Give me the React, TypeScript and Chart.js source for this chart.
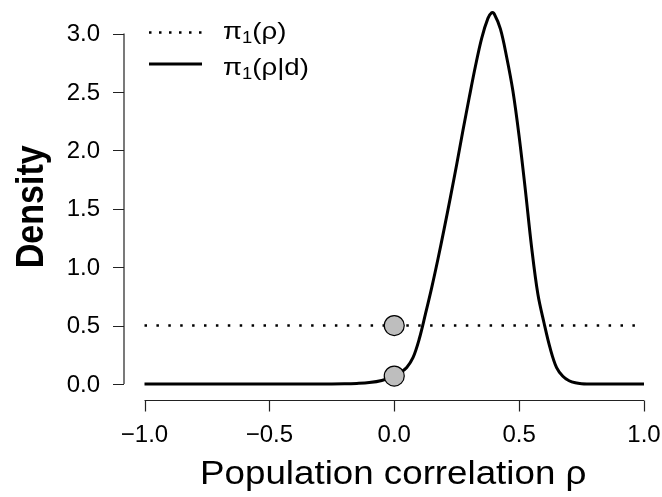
import React, { useEffect, useRef } from "react";
import { Chart, registerables } from "chart.js";

Chart.register(...registerables);

// ---- data ----
const rhoGrid = [
  -1, -0.8, -0.6, -0.4, -0.3, -0.2, -0.15, -0.1, -0.05, 0, 0.025, 0.05, 0.075, 0.1, 0.125,
  0.15, 0.175, 0.2, 0.225, 0.25, 0.275, 0.3, 0.325, 0.35, 0.375, 0.39, 0.4, 0.425, 0.45,
  0.475, 0.5, 0.525, 0.55, 0.575, 0.6, 0.625, 0.65, 0.675, 0.7, 0.725, 0.75, 0.8, 0.9, 1,
];
const posteriorDensity = [
  0, 0, 0, 0, 0.0005, 0.002, 0.005, 0.012, 0.03, 0.068, 0.099, 0.142, 0.225, 0.385, 0.6,
  0.825, 1.07, 1.33, 1.6, 1.88, 2.17, 2.45, 2.72, 2.96, 3.13, 3.18, 3.17, 3.04, 2.8,
  2.51, 2.12, 1.66, 1.17, 0.77, 0.52, 0.3, 0.14, 0.066, 0.028, 0.01, 0.003, 0, 0, 0,
];
const priorRho = [-1, 1];
const priorDensity = [0.5, 0.5];
const pointRho = [0, 0];
const pointDensity = [0.5, 0.068];

const xTicks = [-1, -0.5, 0, 0.5, 1];
const xTickLabels = ["\u22121.0", "\u22120.5", "0.0", "0.5", "1.0"];
const yTicks = [0, 0.5, 1, 1.5, 2, 2.5, 3];
const yTickLabels = ["0.0", "0.5", "1.0", "1.5", "2.0", "2.5", "3.0"];

const xTitle = "Population correlation \u03c1";
const yTitle = "Density";
const legendPrior = ["\u03c0", "1", "(\u03c1)"];
const legendPosterior = ["\u03c0", "1", "(\u03c1|d)"];

const FONT = '"Liberation Sans", Arial, Helvetica, sans-serif';

const rAxesPlugin = {
  id: "rAxes",
  afterDraw(chart: any) {
    const ctx = chart.ctx as CanvasRenderingContext2D;
    const xs = chart.scales.x;
    const ys = chart.scales.y;
    ctx.save();
    ctx.strokeStyle = "#222";
    ctx.fillStyle = "#000";
    ctx.lineWidth = 1.2;

    // x axis (R style, spanning first to last tick)
    const axY = ys.getPixelForValue(0) + 16.5;
    const x0 = xs.getPixelForValue(xTicks[0]);
    const x1 = xs.getPixelForValue(xTicks[xTicks.length - 1]);
    ctx.beginPath();
    ctx.moveTo(x0, axY);
    ctx.lineTo(x1, axY);
    xTicks.forEach((t) => {
      const px = Math.round(xs.getPixelForValue(t)) + 0.5;
      ctx.moveTo(px, axY);
      ctx.lineTo(px, axY + 11);
    });
    ctx.stroke();
    ctx.font = `24px ${FONT}`;
    ctx.textAlign = "center";
    ctx.textBaseline = "alphabetic";
    xTicks.forEach((t, i) => {
      ctx.fillText(xTickLabels[i], xs.getPixelForValue(t), axY + 41);
    });

    // y axis
    const axX = xs.getPixelForValue(-1) - 20.5;
    const y0 = ys.getPixelForValue(yTicks[0]);
    const y1 = ys.getPixelForValue(yTicks[yTicks.length - 1]);
    ctx.beginPath();
    ctx.moveTo(axX, y0);
    ctx.lineTo(axX, y1);
    yTicks.forEach((t) => {
      const py = Math.round(ys.getPixelForValue(t)) + 0.5;
      ctx.moveTo(axX, py);
      ctx.lineTo(axX - 11, py);
    });
    ctx.stroke();
    ctx.textAlign = "right";
    ctx.textBaseline = "middle";
    yTicks.forEach((t, i) => {
      ctx.fillText(yTickLabels[i], axX - 24, ys.getPixelForValue(t) + 1);
    });

    // x title (slightly widened like the reference rendering)
    ctx.save();
    ctx.translate((x0 + x1) / 2 - 1, 484);
    ctx.scale(1.08, 1);
    ctx.font = `34px ${FONT}`;
    ctx.textAlign = "center";
    ctx.textBaseline = "alphabetic";
    ctx.fillText(xTitle, 0, 0);
    ctx.restore();

    // y title
    ctx.save();
    ctx.translate(43, (y0 + y1) / 2 - 2);
    ctx.rotate(-Math.PI / 2);
    ctx.scale(1, 1.12);
    ctx.font = `bold 34px ${FONT}`;
    ctx.textAlign = "center";
    ctx.textBaseline = "alphabetic";
    ctx.fillText(yTitle, 0, 0);
    ctx.restore();

    // legend
    const lx0 = 149;
    const lx1 = 202;
    const ly1 = 32.5;
    const ly2 = 64;
    ctx.strokeStyle = "#000";
    ctx.lineWidth = 2.5;
    ctx.setLineDash([2.5, 7.5]);
    ctx.beginPath();
    ctx.moveTo(lx0, ly1);
    ctx.lineTo(lx1, ly1);
    ctx.stroke();
    ctx.setLineDash([]);
    ctx.lineWidth = 3;
    ctx.beginPath();
    ctx.moveTo(lx0, ly2);
    ctx.lineTo(lx1, ly2);
    ctx.stroke();

    const drawLabel = (parts: string[], x: number, baseline: number) => {
      ctx.save();
      ctx.translate(x, baseline);
      ctx.scale(1.15, 1);
      ctx.textAlign = "left";
      ctx.textBaseline = "alphabetic";
      ctx.font = `24px ${FONT}`;
      ctx.fillText(parts[0], 0, 0);
      let cx = ctx.measureText(parts[0]).width;
      ctx.font = `16px ${FONT}`;
      ctx.fillText(parts[1], cx, 4);
      cx += ctx.measureText(parts[1]).width;
      ctx.font = `24px ${FONT}`;
      ctx.fillText(parts[2], cx, 0);
      ctx.restore();
    };
    drawLabel(legendPrior, 223, 39);
    drawLabel(legendPosterior, 223, 74.5);

    ctx.restore();
  },
};

export default function App() {
  const canvasRef = useRef<HTMLCanvasElement | null>(null);

  useEffect(() => {
    if (!canvasRef.current) return;
    const chart = new Chart(canvasRef.current, {
      type: "line",
      data: {
        datasets: [
          {
            label: "points",
            data: pointRho.map((x, i) => ({ x, y: pointDensity[i] })),
            showLine: false,
            pointRadius: 10,
            pointBackgroundColor: "#BEBEBE",
            pointBorderColor: "#000",
            pointBorderWidth: 1.2,
            clip: false,
          } as any,
          {
            label: "posterior",
            data: rhoGrid.map((x, i) => ({ x, y: posteriorDensity[i] })),
            borderColor: "#000",
            borderWidth: 3,
            pointRadius: 0,
            tension: 0.35,
            fill: false,
            clip: false,
          } as any,
          {
            label: "prior",
            data: priorRho.map((x, i) => ({ x, y: priorDensity[i] })),
            borderColor: "#000",
            borderWidth: 2.5,
            borderDash: [2.5, 9.4],
            pointRadius: 0,
            fill: false,
            clip: false,
          } as any,
        ],
      },
      options: {
        responsive: false,
        animation: false,
        events: [],
        layout: { padding: { left: 144.5, right: 18, top: 33.6, bottom: 113 } },
        plugins: { legend: { display: false }, tooltip: { enabled: false } },
        scales: {
          x: { type: "linear", min: -1, max: 1, display: false },
          y: { type: "linear", min: 0, max: 3, display: false },
        },
      },
      plugins: [rAxesPlugin],
    });
    return () => chart.destroy();
  }, []);

  return (
    <div style={{ position: "fixed", left: 0, top: 0, width: 662, height: 497, background: "#fff" }}>
      <canvas ref={canvasRef} width={662} height={497} style={{ display: "block" }} />
    </div>
  );
}
